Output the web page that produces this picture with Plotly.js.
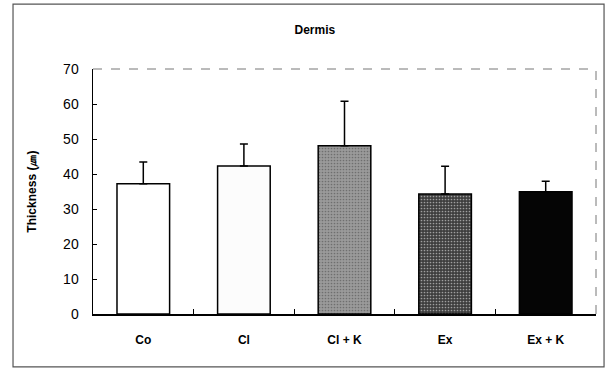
<!DOCTYPE html>
<html>
<head>
<meta charset="utf-8">
<script src="https://cdn.plot.ly/plotly-3.0.1.min.js"></script>
<style>html,body{margin:0;padding:0;background:#fff;}#chart{width:608px;height:369px;}</style>
</head>
<body>
<div id="chart"></div>
<script>
var categories = ["Co", "Cl", "Cl + K", "Ex", "Ex + K"];
var thickness = [37.2, 42.3, 48.1, 34.3, 34.9];
var errorPlus = [6.2, 6.3, 12.7, 7.9, 3.0];
var yTickValues = [0, 10, 20, 30, 40, 50, 60, 70];
var chartTitle = "Dermis";
var yTitle = "Thickness (㎛)";

var fills = ["#ffffff", "#fcfcfc", "#9a9a9a", "#3e3e3e", "#050505"];
var dots = ["#ffffff", "#fcfcfc", "#d0d0d0", "#8c8c8c", "#050505"];
var shapesPat = ["", "", ".", ".", ""];

var trace = {
  type: "bar",
  x: categories,
  y: thickness,
  marker: {
    color: fills,
    line: {color: "#000", width: 1.5},
    pattern: {shape: shapesPat, fgcolor: dots, bgcolor: fills, size: 3, solidity: 0.25, fillmode: "overlay"}
  },
  error_y: {type: "data", symmetric: false, array: errorPlus, arrayminus: [0,0,0,0,0], color: "#000", thickness: 1.5, width: 4},
  hoverinfo: "none"
};

var layout = {
  width: 608, height: 369,
  margin: {l: 93, r: 12, t: 69, b: 55},
  paper_bgcolor: "#fff", plot_bgcolor: "#fff",
  bargap: 0.477,
  showlegend: false,
  font: {family: "Liberation Sans, Arial, sans-serif", color: "#000"},
  title: {text: chartTitle, font: {size: 12, weight: "bold", color: "#000"}, xref: "paper", x: 0.441, xanchor: "center", yref: "container", y: 0.919, yanchor: "middle"},
  xaxis: {
    showline: true, linecolor: "#000", linewidth: 1.5,
    ticks: "inside", tickson: "boundaries", ticklen: 5, tickcolor: "#000", tickwidth: 1,
    tickfont: {size: 12, weight: "bold"}, ticklabelstandoff: 14,
    showgrid: false, zeroline: false, fixedrange: true
  },
  yaxis: {
    range: [0, 70], tickvals: yTickValues, showline: true, linecolor: "#000", linewidth: 1.5,
    ticks: "inside", ticklen: 4, tickcolor: "#000", tickwidth: 1,
    tickfont: {size: 14}, ticklabelstandoff: 10,
    showgrid: false, zeroline: false, fixedrange: true
  },
  shapes: [
    {type: "line", xref: "paper", yref: "paper", x0: 0, x1: 1, y0: 1, y1: 1, line: {color: "#777", width: 1, dash: "dash"}},
    {type: "line", xref: "paper", yref: "paper", x0: 1, x1: 1, y0: 0, y1: 1, line: {color: "#777", width: 1, dash: "dash"}},
    {type: "rect", xref: "paper", yref: "paper", x0: -0.159, x1: 1.016, y0: -0.216, y1: 1.265, line: {color: "#555", width: 1.2}}
  ],
  annotations: [
    {text: yTitle, xref: "paper", yref: "paper", x: -0.123, y: 0.5, textangle: -90, showarrow: false, xanchor: "center", yanchor: "middle", font: {size: 12, weight: "bold", color: "#000"}}
  ]
};

Plotly.newPlot("chart", [trace], layout, {staticPlot: true, displayModeBar: false});
</script>
</body>
</html>
